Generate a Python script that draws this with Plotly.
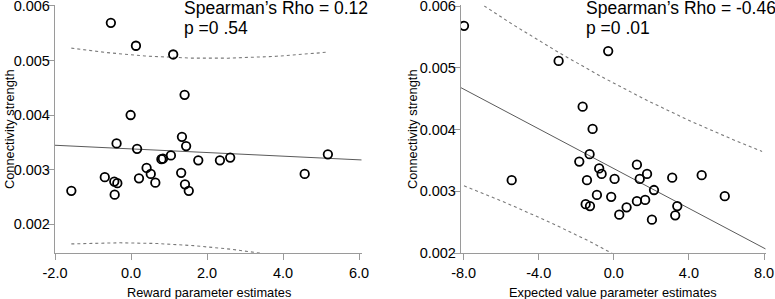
import numpy as np
import plotly.graph_objects as go

# ---------------- data ----------------
reward_x = [-0.53, 0.13, 1.11, 1.41, -0.01, 1.34, 1.45, -0.38, 0.16, -1.57,
            -0.69, -0.44, -0.36, -0.43, 0.21, 0.41, 0.52, 0.64, 0.80, 0.84,
            1.05, 1.32, 1.42, 1.52, 1.77, 2.34, 2.61, 4.57, 5.18]
reward_y = [0.00569, 0.00527, 0.00511, 0.00437, 0.00400, 0.00360, 0.00343, 0.00348, 0.00338, 0.00261,
            0.00286, 0.00278, 0.00275, 0.00254, 0.00284, 0.00303, 0.00292, 0.00276, 0.00319, 0.00320,
            0.00326, 0.00294, 0.00273, 0.00261, 0.00317, 0.00317, 0.00322, 0.00292, 0.00328]

ev_x = [-7.98, -2.94, -0.30, -1.66, -1.13, -5.44, -1.29, -1.84, -0.78, -0.65,
        -1.43, 0.04, 1.23, 1.77, 1.38, 3.11, 4.68, 5.91, 2.14, -0.90,
        -0.14, -1.50, -1.27, 0.68, 1.23, 1.67, 3.38, 0.29, 3.27, 2.03]
ev_y = [0.00568, 0.00511, 0.00527, 0.00437, 0.00401, 0.00318, 0.00360, 0.00348, 0.00337, 0.00328,
        0.00318, 0.00320, 0.00343, 0.00328, 0.00320, 0.00322, 0.00326, 0.00292, 0.00302, 0.00294,
        0.00291, 0.00279, 0.00276, 0.00274, 0.00284, 0.00286, 0.00276, 0.00262, 0.00261, 0.00254]

left_xtickvals = [-2, 0, 2, 4, 6]
left_xticktext = ["-2.0", "0.0", "2.0", "4.0", "6.0"]
right_xtickvals = [-8, -4, 0, 4, 8]
right_xticktext = ["-8.0", "-4.0", "0.0", "4.0", "8.0"]
ytickvals = [0.002, 0.003, 0.004, 0.005, 0.006]
yticktext = ["0.002", "0.003", "0.004", "0.005", "0.006"]

left_stats = ["Spearman\u2019s Rho = 0.12", "p =0 .54"]
right_stats = ["Spearman\u2019s Rho = -0.46", "p =0 .01"]
left_xtitle = "Reward parameter estimates"
right_xtitle = "Expected value parameter estimates"
ytitle = "Connectivity strength"

T_CRIT = 2.05  # two-sided 95% t quantile, df ~ 27-28

# ---------------- helpers ----------------
W, H = 775, 299
FONT = "Arial, Liberation Sans, sans-serif"
AXIS_COLOR = "#9a9a9a"


def fit_and_band(x, y, xfit, xband):
    x = np.asarray(x, float)
    y = np.asarray(y, float)
    n = len(x)
    b, a = np.polyfit(x, y, 1)
    resid = y - (a + b * x)
    s = np.sqrt(np.sum(resid ** 2) / (n - 2))
    xm = x.mean()
    sxx = np.sum((x - xm) ** 2)
    yfit = a + b * xfit
    yb = a + b * xband
    hw = T_CRIT * s * np.sqrt(1 + 1 / n + (xband - xm) ** 2 / sxx)
    return yfit, yb + hw, yb - hw


fig = go.Figure()

panels = [
    dict(x=reward_x, y=reward_y, xa="x", ya="y", xrange=[-2.0, 6.07], yrange=[0.00147, 0.00601],
         band_end=None),
    dict(x=ev_x, y=ev_y, xa="x2", ya="y2", xrange=[-8.14, 8.09], yrange=[0.002, 0.00601],
         band_end=7.9),
]

for p in panels:
    xfit = np.linspace(p["xrange"][0], p["xrange"][1], 50)
    bend = p["band_end"] if p["band_end"] is not None else max(p["x"])
    xband = np.linspace(min(p["x"]), bend, 200)
    yfit, up, lo = fit_and_band(p["x"], p["y"], xfit, xband)
    fig.add_trace(go.Scatter(x=xfit, y=yfit, mode="lines", xaxis=p["xa"], yaxis=p["ya"],
                             line=dict(color="#5a5a5a", width=1), hoverinfo="skip"))
    for yy in (up, lo):
        fig.add_trace(go.Scatter(x=xband, y=yy, mode="lines", xaxis=p["xa"], yaxis=p["ya"],
                                 line=dict(color="#7a7a7a", width=1.1, dash="dot"), hoverinfo="skip"))
    fig.add_trace(go.Scatter(x=p["x"], y=p["y"], mode="markers", xaxis=p["xa"], yaxis=p["ya"],
                             marker=dict(symbol="circle-open", size=8.5, color="black",
                                         line=dict(width=1.8, color="black"))))

ydom = [1 - 253 / H, 1 - 5.4 / H]
common_ax = dict(showgrid=False, zeroline=False, showline=True, linecolor=AXIS_COLOR, linewidth=1.3,
                 ticks="outside", ticklen=6, tickcolor=AXIS_COLOR, tickwidth=1.3, automargin=False,
                 ticklabeloverflow="allow",
                 tickfont=dict(family=FONT, size=14.5, color="black"), fixedrange=True)
yextra = dict(ticklabelstandoff=-5)

fig.update_layout(
    template="none",
    width=W, height=H, margin=dict(l=0, r=0, t=0, b=0, pad=0), autosize=False,
    paper_bgcolor="white", plot_bgcolor="white", showlegend=False,
    font=dict(family=FONT, color="black"),
    xaxis=dict(domain=[55 / W, 361.7 / W], range=panels[0]["xrange"], anchor="y",
               tickvals=left_xtickvals, ticktext=left_xticktext, **common_ax),
    yaxis=dict(domain=ydom, range=panels[0]["yrange"], anchor="x",
               tickvals=ytickvals, ticktext=yticktext, **common_ax, **yextra),
    xaxis2=dict(domain=[461 / W, 765.7 / W], range=panels[1]["xrange"], anchor="y2",
                tickvals=right_xtickvals, ticktext=right_xticktext, **common_ax),
    yaxis2=dict(domain=ydom, range=panels[1]["yrange"], anchor="x2",
                tickvals=ytickvals, ticktext=yticktext, **common_ax, **yextra),
)

ann = []
# stats text
for (txt, px, py) in [(left_stats[0], 181.5, 8.5), (left_stats[1], 181.5, 27.5),
                      (right_stats[0], 584, 8.5), (right_stats[1], 584, 27.5)]:
    ann.append(dict(text=txt, x=px / W, y=1 - py / H, xref="paper", yref="paper",
                    xanchor="left", yanchor="middle", showarrow=False,
                    font=dict(family=FONT, size=17.5, color="black")))
# x titles
for (txt, cx) in [(left_xtitle, 208.5), (right_xtitle, 613)]:
    ann.append(dict(text=txt, x=cx / W, y=1 - 292 / H, xref="paper", yref="paper",
                    xanchor="center", yanchor="middle", showarrow=False,
                    font=dict(family=FONT, size=12.8, color="black")))
# y titles
for cx in (10, 413):
    ann.append(dict(text=ytitle, x=cx / W, y=1 - 129 / H, xref="paper", yref="paper",
                    xanchor="center", yanchor="middle", showarrow=False, textangle=-90,
                    font=dict(family=FONT, size=12.8, color="black")))
fig.update_layout(annotations=ann)

fig.write_html("out.html", config={"displayModeBar": False},
               post_script="document.body.style.margin='0px';document.body.style.padding='0px';")
